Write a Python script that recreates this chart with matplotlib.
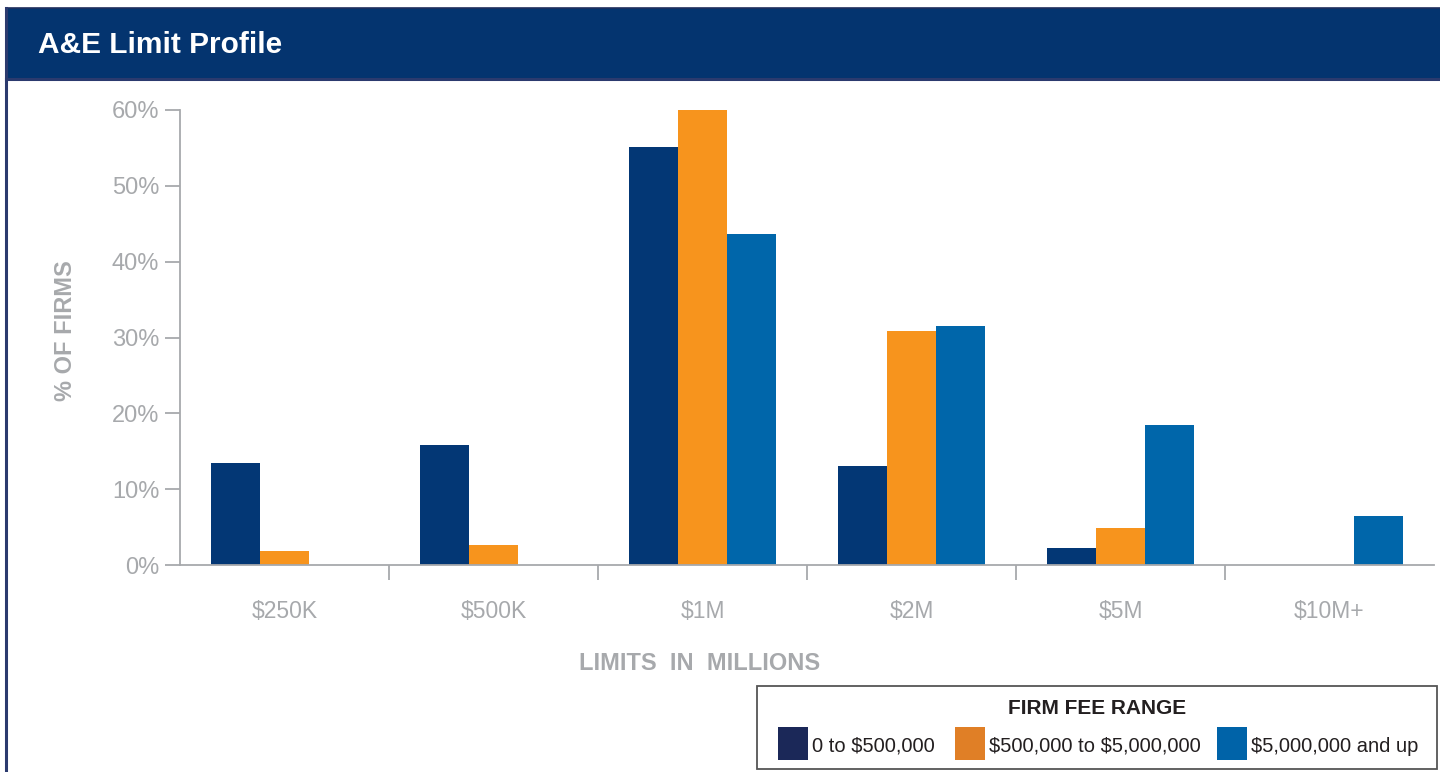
import numpy as np
import matplotlib as mpl
import matplotlib.pyplot as plt
from matplotlib.patches import Rectangle
from matplotlib.lines import Line2D

mpl.rcParams['font.family'] = ['Liberation Sans Narrow', 'Liberation Sans', 'DejaVu Sans']
mpl.rcParams['text.parse_math'] = False

# data
limits = ['$250K', '$500K', '$1M', '$2M', '$5M', '$10M+']
series_names = ['0 to $500,000', '$500,000 to $5,000,000', '$5,000,000 and up']
small_firms = [13.5, 15.8, 55.1, 13.1, 2.2, 0.0]
mid_firms = [1.9, 2.6, 60.0, 30.9, 4.9, 0.0]
large_firms = [0.0, 0.0, 43.7, 31.5, 18.5, 6.5]

bar_colors = ['#033775', '#F7941D', '#0066AA']
legend_colors = ['#1B2858', '#E07F26', '#0063A8']
gray = '#A7A9AC'
navy = '#04346F'

fig = plt.figure(figsize=(14.4, 7.72), dpi=100)
W, H = 1440, 772

def fx(px):
    return px / W

def fy(py):
    return 1 - py / H

# header band + frame
fig.patches.append(Rectangle((fx(6), fy(78)), fx(1434), fy(8) - fy(78),
                             transform=fig.transFigure, facecolor=navy, edgecolor='none'))
fig.lines.append(Line2D([fx(6), 1], [fy(7.5), fy(7.5)], transform=fig.transFigure, color='#1F2F5E', lw=1.2))
fig.lines.append(Line2D([fx(6), 1], [fy(79), fy(79)], transform=fig.transFigure, color='#2B3A6E', lw=2.2))
fig.lines.append(Line2D([fx(6.5), fx(6.5)], [fy(7.5), 0], transform=fig.transFigure, color='#2B3A6E', lw=2.2))
fig.text(fx(38), fy(45), 'A&E Limit Profile', color='white', fontsize=21.5, fontweight='bold',
         va='center', ha='left')

# chart
ax = fig.add_axes([fx(180), fy(565), fx(1434) - fx(180), fy(110) - fy(565)])
x = np.arange(len(limits))
w = 0.235
for i, vals in enumerate([small_firms, mid_firms, large_firms]):
    ax.bar(x + (i - 1) * w, vals, width=w, color=bar_colors[i], linewidth=0)

ax.set_xlim(-0.5, len(limits) - 0.5)
ax.set_ylim(0, 60)
ax.set_yticks(np.arange(0, 61, 10))
ax.set_yticklabels([f'{v}%' for v in range(0, 61, 10)])
ax.set_xticks(x)
ax.set_xticklabels(limits)
ax.set_xticks(x[:-1] + 0.5, minor=True)
ax.tick_params(axis='y', colors=gray, labelsize=17, length=11, width=1.3, pad=4)
ax.tick_params(axis='x', which='major', colors=gray, labelsize=16.5, length=0, pad=25)
ax.tick_params(axis='x', which='minor', color=gray, length=11, width=1.3)
for s in ['top', 'right']:
    ax.spines[s].set_visible(False)
for s in ['left', 'bottom']:
    ax.spines[s].set_color(gray)
    ax.spines[s].set_linewidth(1.3)

fig.text(fx(66), fy(331), '% OF FIRMS', rotation=90, color=gray, fontsize=17, fontweight='bold',
         ha='center', va='center')
fig.text(fx(700), fy(663), 'LIMITS  IN  MILLIONS', color=gray,
         fontsize=17, fontweight='bold', ha='center', va='center')

# legend box
fig.patches.append(Rectangle((fx(757), fy(769)), fx(1437) - fx(757), fy(686) - fy(769),
                             transform=fig.transFigure, facecolor='white', edgecolor='#555555', lw=1.3))
fig.text(fx(1097), fy(709), 'FIRM FEE RANGE', fontsize=15, fontweight='bold', color='#231F20',
         ha='center', va='center')
sw_x = [778, 955, 1217]
for i, name in enumerate(series_names):
    fig.patches.append(Rectangle((fx(sw_x[i]), fy(760)), fx(30), fy(727) - fy(760),
                                 transform=fig.transFigure, facecolor=legend_colors[i], edgecolor='none'))
    fig.text(fx(sw_x[i] + 34), fy(746), name, fontsize=14.5, color='#231F20', ha='left', va='center')

fig.savefig('out.png', dpi=100, facecolor='white')
